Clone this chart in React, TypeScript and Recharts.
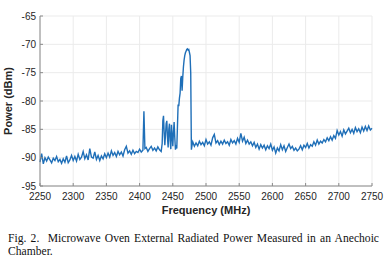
import React from 'react';
import { LineChart, Line, XAxis, YAxis, CartesianGrid } from 'recharts';

// lower band, 2250 - 2402.5 MHz every 2.5 MHz
const lowStart = 2250;
const lowStep = 2.5;
const lowPower = [
  -90.8, -89.3, -91.1, -90.0, -90.6, -89.9, -90.4, -90.9, -90.1, -90.5,
  -89.8, -90.7, -90.3, -91.0, -90.2, -90.8, -89.7, -90.9, -90.4, -89.6,
  -90.5, -89.8, -90.6, -89.4, -90.3, -89.9, -88.9, -90.2, -89.5, -90.4,
  -88.4, -89.9, -90.1, -89.0, -90.3, -89.6, -90.5, -89.7, -90.2, -89.3,
  -90.0, -89.2, -89.9, -88.8, -89.6, -89.1, -89.8, -88.9, -89.5, -89.0,
  -89.7, -88.6, -88.0, -89.2, -88.8, -89.4, -88.7, -89.3, -88.9, -89.1,
  -88.5, -89.0,
];

// ISM band, finer sampling around the oven emission
const ismFreq = [
  2405, 2406.5, 2408, 2410, 2412.5, 2415, 2417.5, 2420, 2422.5, 2425, 2427.5, 2430, 2432.5,
  2434, 2435, 2436, 2437, 2438, 2439, 2440, 2441, 2442, 2443, 2444, 2445, 2446, 2447,
  2448, 2449, 2450, 2451, 2452, 2453, 2454, 2455, 2456, 2457, 2458, 2459, 2460, 2461,
  2462, 2463, 2464, 2465, 2466, 2467, 2468, 2469, 2470, 2471, 2472, 2473, 2474, 2475,
  2476, 2477, 2478, 2479,
];
const ismPower = [
  -88.7, -81.8, -88.4, -88.2, -88.9, -88.4, -88.0, -88.7, -88.3, -88.8, -88.1, -88.6, -88.9,
  -87.5, -83.5, -82.6, -85.5, -87.8, -86.0, -84.0, -83.5, -86.5, -88.2, -85.0, -84.0, -87.0, -88.5,
  -84.2, -86.0, -88.0, -85.5, -83.7, -86.5, -88.6, -87.8, -88.4, -84.5, -80.6, -80.9, -79.5, -78.6,
  -76.0, -75.6, -78.2, -75.8, -74.0, -72.8, -72.0, -71.5, -71.2, -70.9, -70.8, -71.0, -70.9, -71.4,
  -72.0, -75.0, -88.6, -87.8,
];

// upper band, 2480 - 2750 MHz every 2.5 MHz
const highStart = 2480;
const highStep = 2.5;
const highPower = [
  -87.2, -88.0, -87.4, -87.9, -87.1, -87.7, -87.3, -87.9, -86.8, -87.6,
  -87.2, -87.8, -86.5, -85.9, -87.4, -87.0, -87.7, -87.1, -87.6, -86.9,
  -87.5, -87.2, -87.8, -86.8, -87.4, -87.0, -87.6, -86.6, -87.3, -85.7,
  -87.1, -86.4, -87.5, -86.9, -87.6, -87.2, -87.9, -87.3, -88.2, -87.6,
  -88.5, -87.7, -88.3, -87.8, -88.6, -87.9, -88.4, -87.6, -88.7, -88.1,
  -89.2, -88.3, -88.8, -87.7, -88.6, -87.9, -88.9, -88.2, -87.6, -88.4,
  -88.0, -88.7, -88.3, -88.8, -88.5, -87.9, -88.6, -87.8, -88.2, -87.5,
  -88.3, -87.7, -88.0, -87.2, -87.8, -86.9, -87.6, -87.1, -87.4, -86.8,
  -87.2, -86.5, -87.0, -86.3, -86.9, -86.1, -86.6, -85.2, -86.0, -85.4,
  -86.2, -85.1, -85.8, -85.3, -84.8, -85.6, -85.0, -85.7, -84.7, -85.4,
  -84.9, -85.6, -84.6, -85.3, -84.5, -85.2, -84.4, -85.1, -84.8,
];

const xTicks = [2250, 2300, 2350, 2400, 2450, 2500, 2550, 2600, 2650, 2700, 2750];
const yTicks = [-95, -90, -85, -80, -75, -70, -65];

const data = [
  ...lowPower.map((p, i) => ({ freq: lowStart + i * lowStep, power: p })),
  ...ismFreq.map((f, i) => ({ freq: f, power: ismPower[i] })),
  ...highPower.map((p, i) => ({ freq: highStart + i * highStep, power: p })),
];

const axisColor = '#8a8a8a';
const tickStyle = { fontSize: 10, fill: '#262626', fontFamily: '"Liberation Sans", Arial, sans-serif' };

export default function App() {
  return (
    <div
      style={{
        position: 'absolute',
        left: 0,
        top: 0,
        width: 386,
        height: 273,
        background: '#fff',
        fontFamily: '"Liberation Sans", Arial, sans-serif',
      }}
    >
      <LineChart width={386} height={273} data={data} margin={{ top: 16, right: 14, left: 10, bottom: 57 }}>
        <CartesianGrid stroke="#ebebeb" strokeWidth={1} />
        <XAxis
          dataKey="freq"
          type="number"
          domain={[2250, 2750]}
          ticks={xTicks}
          interval={0}
          height={30}
          stroke={axisColor}
          tickSize={-3}
          tickMargin={10}
          tick={tickStyle}
          label={{
            value: 'Frequency (MHz)',
            position: 'insideBottom',
            offset: 2,
            style: { fontSize: 11, fontWeight: 'bold', fill: '#262626' },
          }}
        />
        <XAxis
          xAxisId="top"
          dataKey="freq"
          type="number"
          orientation="top"
          domain={[2250, 2750]}
          ticks={xTicks}
          interval={0}
          height={0}
          stroke={axisColor}
          tickSize={-3}
          tick={false}
        />
        <YAxis
          type="number"
          domain={[-95, -65]}
          ticks={yTicks}
          interval={0}
          width={30}
          stroke={axisColor}
          tickSize={-3}
          tickMargin={7}
          tick={tickStyle}
          label={{
            value: 'Power (dBm)',
            angle: -90,
            position: 'insideLeft',
            offset: -2,
            style: { fontSize: 11, fontWeight: 'bold', fill: '#262626', textAnchor: 'middle' },
          }}
        />
        <YAxis
          yAxisId="right"
          type="number"
          orientation="right"
          domain={[-95, -65]}
          ticks={yTicks}
          interval={0}
          width={0}
          stroke={axisColor}
          tickSize={-3}
          tick={false}
        />
        <Line
          type="linear"
          dataKey="power"
          stroke="#1f6fb8"
          strokeWidth={1.4}
          dot={false}
          isAnimationActive={false}
        />
      </LineChart>
      <div
        style={{
          position: 'absolute',
          left: 8,
          top: 232,
          width: 371,
          fontFamily: '"Liberation Serif", "Times New Roman", serif',
          fontSize: 11.6,
          lineHeight: '13px',
          textAlign: 'justify',
          color: '#111',
        }}
      >
        Fig. 2.&nbsp;&nbsp;Microwave Oven External Radiated Power Measured in an Anechoic Chamber.
      </div>
    </div>
  );
}
